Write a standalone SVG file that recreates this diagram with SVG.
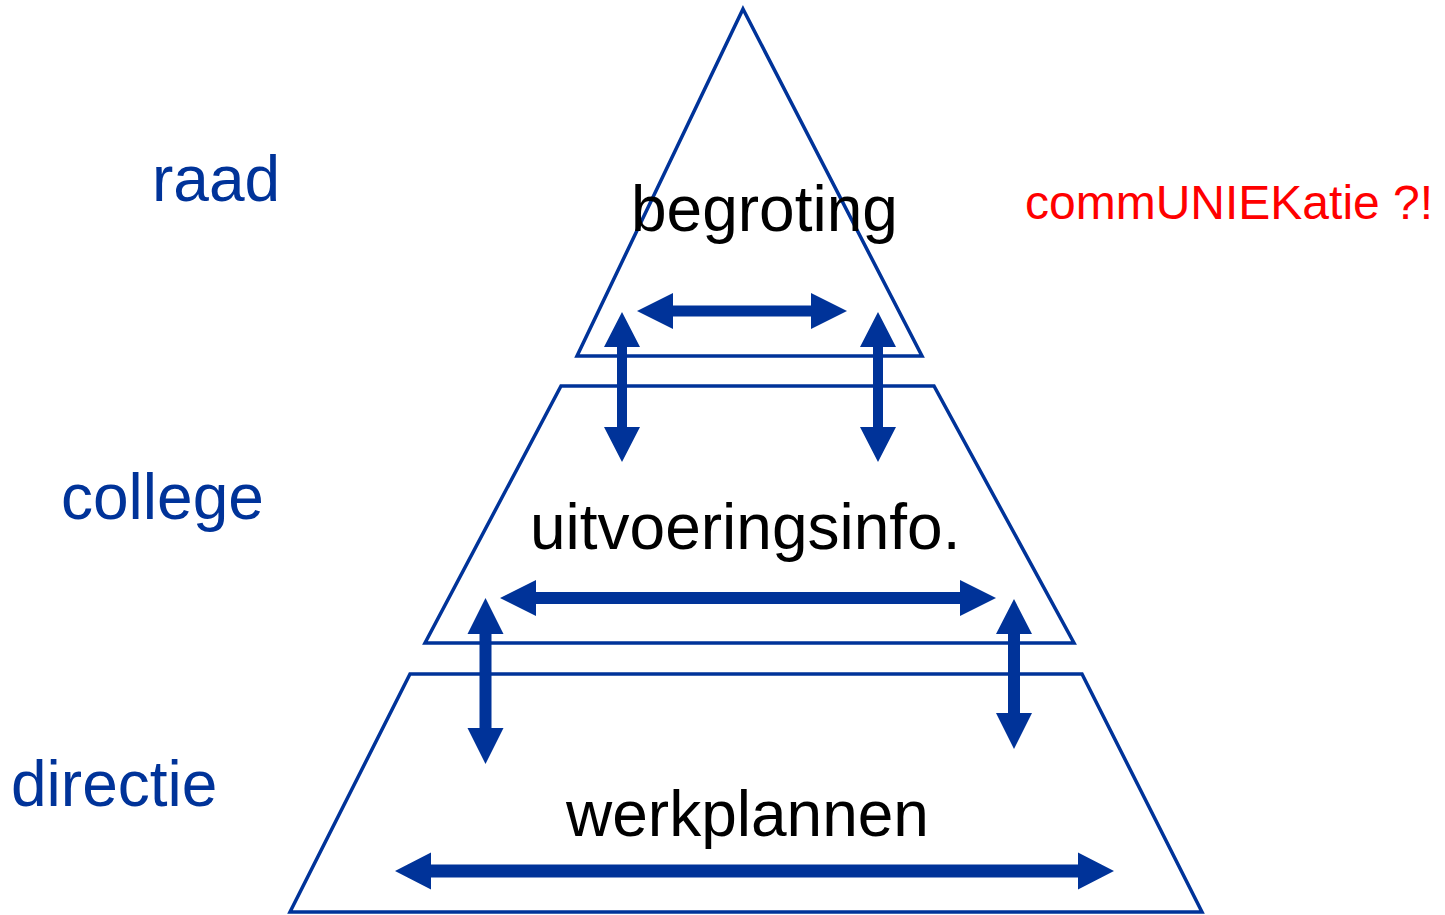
<svg xmlns="http://www.w3.org/2000/svg" width="1445" height="915" viewBox="0 0 1445 915">
<style>
.lvl{fill:none;stroke:#003399;stroke-width:3.5;stroke-linejoin:miter}
.arr{fill:#003399;stroke:none}
.lbl{font-family:"Liberation Sans",Arial,sans-serif;font-size:64px;fill:#003399}
.txt{font-family:"Liberation Sans",Arial,sans-serif;font-size:64px;fill:#000000}
.red{font-family:"Liberation Sans",Arial,sans-serif;font-size:48px;fill:#FF0000}
</style>
<rect width="1445" height="915" fill="#ffffff"/>
<g id="level-raad">
<polygon class="lvl" points="743,9 922,356 577,356"/>
<text class="txt" x="631" y="231">begroting</text>
</g>
<g id="level-college">
<polygon class="lvl" points="561,386 934,386 1074,643 425,643"/>
<text class="txt" x="530" y="549">uitvoeringsinfo.</text>
</g>
<g id="level-directie">
<polygon class="lvl" points="410,674 1082,674 1202,912 290,912"/>
<text class="txt" x="566" y="836">werkplannen</text>
</g>
<g id="labels">
<text class="lbl" x="152" y="201">raad</text>
<text class="lbl" x="61" y="519">college</text>
<text class="lbl" x="11" y="806">directie</text>
<text class="red" x="1025" y="219">commUNIEKatie ?!</text>
</g>
<g id="connectors">
<polygon class="arr" points="637,311 673,293 673,305.5 811,305.5 811,293 847,311 811,329 811,316.5 673,316.5 673,329"/>
<polygon class="arr" points="500,598 536,580 536,592 960,592 960,580 996,598 960,616 960,604 536,604 536,616"/>
<polygon class="arr" points="395,871 431,852.5 431,864.5 1078,864.5 1078,852.5 1114,871 1078,889.5 1078,877.5 431,877.5 431,889.5"/>
<polygon class="arr" points="622,312 640,347 627,347 627,427 640,427 622,462 604,427 617,427 617,347 604,347"/>
<polygon class="arr" points="878,312 896,347 883,347 883,427 896,427 878,462 860,427 873,427 873,347 860,347"/>
<polygon class="arr" points="485.5,598 503.5,634 491.5,634 491.5,728 503.5,728 485.5,764 467.5,728 479.5,728 479.5,634 467.5,634"/>
<polygon class="arr" points="1014,599 1032,634 1020,634 1020,713 1032,713 1014,749 996,713 1008,713 1008,634 996,634"/>
</g>
</svg>
